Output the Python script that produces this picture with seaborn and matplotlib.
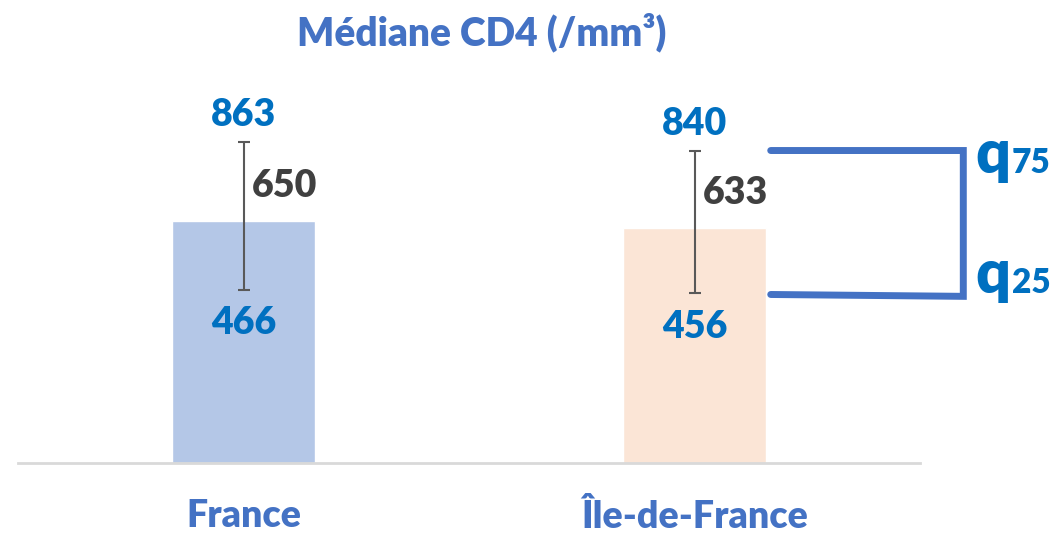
import matplotlib
matplotlib.use("Agg")
import matplotlib.pyplot as plt
import seaborn as sns
import pandas as pd

# données
regions = ["France", "Île-de-France"]
median_cd4 = [650, 633]
q25 = [466, 456]
q75 = [863, 840]
bar_colors = ["#B4C7E7", "#FBE5D6"]

blue_title = "#4472C4"
blue_num = "#0070C0"
dark = "#404040"

sns.set_style("white")
plt.rcParams['font.family'] = ['Lato', 'DejaVu Sans']
plt.rcParams['font.weight'] = 'heavy'

df = pd.DataFrame({"region": regions, "median": median_cd4, "q25": q25, "q75": q75})

fig = plt.figure(figsize=(10.6, 5.36), dpi=100)
W, H = 1060, 536
ax = fig.add_axes([18 / W, (H - 463) / H, 902 / W, 372 / H])

sns.barplot(data=df, x="region", y="median", hue="region", palette=bar_colors,
            width=0.315, saturation=1, legend=False, ax=ax)
ax.set_xlim(-0.5, 1.5)
ax.set_ylim(0, 1000)

# intervalle interquartile
xs = range(len(df))
ax.errorbar(list(xs), df["median"],
            yerr=[df["median"] - df["q25"], df["q75"] - df["median"]],
            fmt="none", ecolor="#595959", elinewidth=1.5, capsize=4, capthick=1.5)

for i, row in df.iterrows():
    ax.annotate(str(row["q75"]), (i, row["q75"]), xytext=(0, 7), textcoords="offset points",
                ha="center", va="bottom", color=blue_num, fontsize=27, fontweight="heavy")
    ax.annotate(str(row["q25"]), (i, row["q25"]), xytext=(0, -12), textcoords="offset points",
                ha="center", va="top", color=blue_num, fontsize=27, fontweight="heavy")
    ax.annotate(str(row["median"]), (i, row["median"]), xytext=(6, 25), textcoords="offset points",
                ha="left", va="center", color=dark, fontsize=27, fontweight="heavy")

# accolade q25 / q75 pour Île-de-France
i_idf = 1
x0, x1 = i_idf + 0.169, i_idf + 0.596
ax.plot([x0, x1, x1, x0], [df["q75"][i_idf], df["q75"][i_idf], df["q25"][i_idf] - 8, df["q25"][i_idf] - 3],
        color=blue_title, lw=5, clip_on=False, solid_joinstyle="miter")
for val, sub, dy in [(df["q75"][i_idf], "75", -16), (df["q25"][i_idf], "25", 0)]:
    ax.annotate("q", (x1, val), xytext=(9, dy), textcoords="offset points",
                ha="left", va="baseline", color=blue_num, fontsize=44, fontweight="heavy",
                annotation_clip=False)
    ax.annotate(sub, (x1, val), xytext=(35, dy), textcoords="offset points",
                ha="left", va="baseline", color=blue_num, fontsize=24, fontweight="heavy",
                annotation_clip=False)

sns.despine(ax=ax, left=True)
ax.spines["bottom"].set_color("#D9D9D9")
ax.spines["bottom"].set_linewidth(2)
ax.set_yticks([])
ax.set_xlabel("")
ax.set_ylabel("")
ax.tick_params(axis="x", length=0, pad=26, labelsize=27, labelcolor=blue_title)
for lab in ax.get_xticklabels():
    lab.set_fontweight("heavy")

fig.text(482 / W, 1 - 33 / H, "Médiane CD4 (/mm³)", ha="center", va="center",
         color=blue_title, fontsize=28, fontweight="heavy")

fig.savefig("out.png", dpi=100)
